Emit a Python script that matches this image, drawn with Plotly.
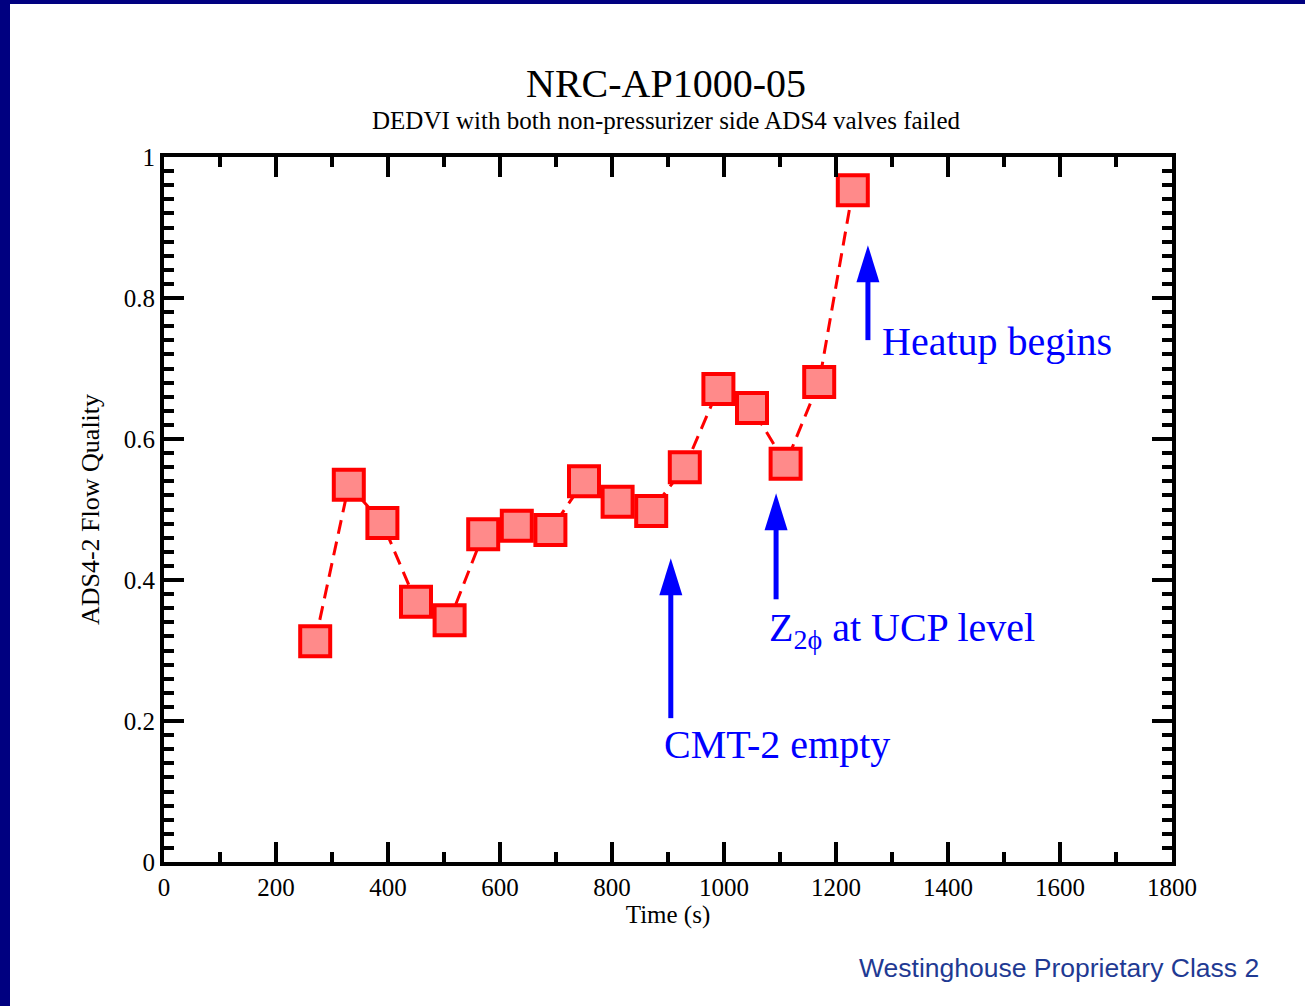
import plotly.graph_objects as go

# Data
time_s = [270, 330, 390, 450, 510, 570, 630, 690, 750, 810, 870, 930, 990, 1050, 1110, 1170, 1230]
quality = [0.313, 0.535, 0.481, 0.369, 0.343, 0.465, 0.477, 0.471, 0.540, 0.511, 0.498, 0.560,
           0.671, 0.644, 0.565, 0.681, 0.953]

x_ticks = [0, 200, 400, 600, 800, 1000, 1200, 1400, 1600, 1800]
y_ticks = [0, 0.2, 0.4, 0.6, 0.8, 1]
y_tick_labels = ["0", "0.2", "0.4", "0.6", "0.8", "1"]

# Arrow annotations: (x, tail y, tip y)
arrow_x = [905, 1093, 1257]
arrow_tail = [0.204, 0.372, 0.740]
arrow_tip = [0.431, 0.523, 0.875]
label_text = ["CMT-2 empty", "Z<sub>2ϕ</sub> at UCP level", "Heatup begins"]
label_x = [889, 1077, 1278]
label_y = [0.166, 0.329, 0.739]

BLUE = "#0000ff"
RED = "#ff0000"
SERIF = "Liberation Serif, Times New Roman, serif"

fig = go.Figure()
fig.add_trace(go.Scatter(
    x=time_s, y=quality, mode="lines+markers",
    line=dict(color=RED, width=3, dash="14px,8px"),
    marker=dict(symbol="square", size=30, color="#ff8a8a",
                line=dict(color=RED, width=4)),
    showlegend=False, hoverinfo="x+y",
))

shapes = []
for ax_, t0, t1 in zip(arrow_x, arrow_tail, arrow_tip):
    h = int((t1 - t0) * 705)
    shapes.append(dict(type="path", xref="x", yref="y", xsizemode="pixel", ysizemode="pixel",
                       xanchor=ax_, yanchor=t1,
                       path="M-2.5,-34 L2.5,-34 L2.5,-%d L-2.5,-%d Z" % (h, h),
                       fillcolor=BLUE, line=dict(width=0)))
    shapes.append(dict(type="path", xref="x", yref="y", xsizemode="pixel", ysizemode="pixel",
                       xanchor=ax_, yanchor=t1,
                       path="M-11.5,-37 L0,0 L11.5,-37 Z",
                       fillcolor=BLUE, line=dict(width=0)))

# slide border (dark blue) on left and top
shapes.append(dict(type="rect", xref="paper", yref="paper", x0=-164 / 1008, x1=-154 / 1008,
                   y0=-144 / 705, y1=862 / 705, fillcolor="#000080", line=dict(width=0), layer="below"))
shapes.append(dict(type="rect", xref="paper", yref="paper", x0=-164 / 1008, x1=1141 / 1008,
                   y0=858 / 705, y1=862 / 705, fillcolor="#000080", line=dict(width=0), layer="below"))

annotations = []
for t, lx, ly in zip(label_text, label_x, label_y):
    annotations.append(dict(x=lx, y=ly, xref="x", yref="y", text=t, showarrow=False,
                            xanchor="left", yanchor="middle",
                            font=dict(family=SERIF, size=40, color=BLUE)))

annotations.append(dict(x=(666 - 164) / 1008, y=(862 - 83) / 705, xref="paper", yref="paper",
                        text="NRC-AP1000-05", showarrow=False, xanchor="center", yanchor="middle",
                        font=dict(family=SERIF, size=40, color="black")))
annotations.append(dict(x=(666 - 164) / 1008, y=(862 - 121) / 705, xref="paper", yref="paper",
                        text="DEDVI with both non-pressurizer side ADS4 valves failed", showarrow=False,
                        xanchor="center", yanchor="middle",
                        font=dict(family=SERIF, size=25, color="black")))
annotations.append(dict(x=(1261 - 164) / 1008, y=(862 - 968) / 705, xref="paper", yref="paper",
                        text="Westinghouse Proprietary Class 2", showarrow=False,
                        xanchor="right", yanchor="middle",
                        font=dict(family="Liberation Sans, Arial, sans-serif", size=26.5, color="#1f3a93")))

fig.update_layout(
    width=1305, height=1006,
    margin=dict(l=164, r=133, t=157, b=144),
    paper_bgcolor="white", plot_bgcolor="white",
    shapes=shapes, annotations=annotations,
    font=dict(family=SERIF, size=24, color="black"),
    xaxis=dict(range=[0, 1800], tickvals=x_ticks, ticks="inside", ticklen=20, tickwidth=4,
               tickcolor="black", showline=True, linewidth=4, linecolor="black", mirror="ticks",
               showgrid=False, zeroline=False,
               minor=dict(dtick=100, ticks="inside", ticklen=10, tickwidth=4, tickcolor="black",
                          showgrid=False),
               title=dict(text="Time (s)", font=dict(size=25), standoff=4),
               tickfont=dict(size=25)),
    yaxis=dict(range=[0, 1], tickvals=y_ticks, ticktext=y_tick_labels, ticks="inside", ticklen=20,
               tickwidth=4, tickcolor="black", showline=True, linewidth=4, linecolor="black",
               mirror="ticks", showgrid=False, zeroline=False,
               minor=dict(dtick=0.02, ticks="inside", ticklen=10, tickwidth=4, tickcolor="black",
                          showgrid=False),
               title=dict(text="ADS4-2 Flow Quality", font=dict(size=26), standoff=18),
               tickfont=dict(size=25)),
)

fig.write_html("out.html")
